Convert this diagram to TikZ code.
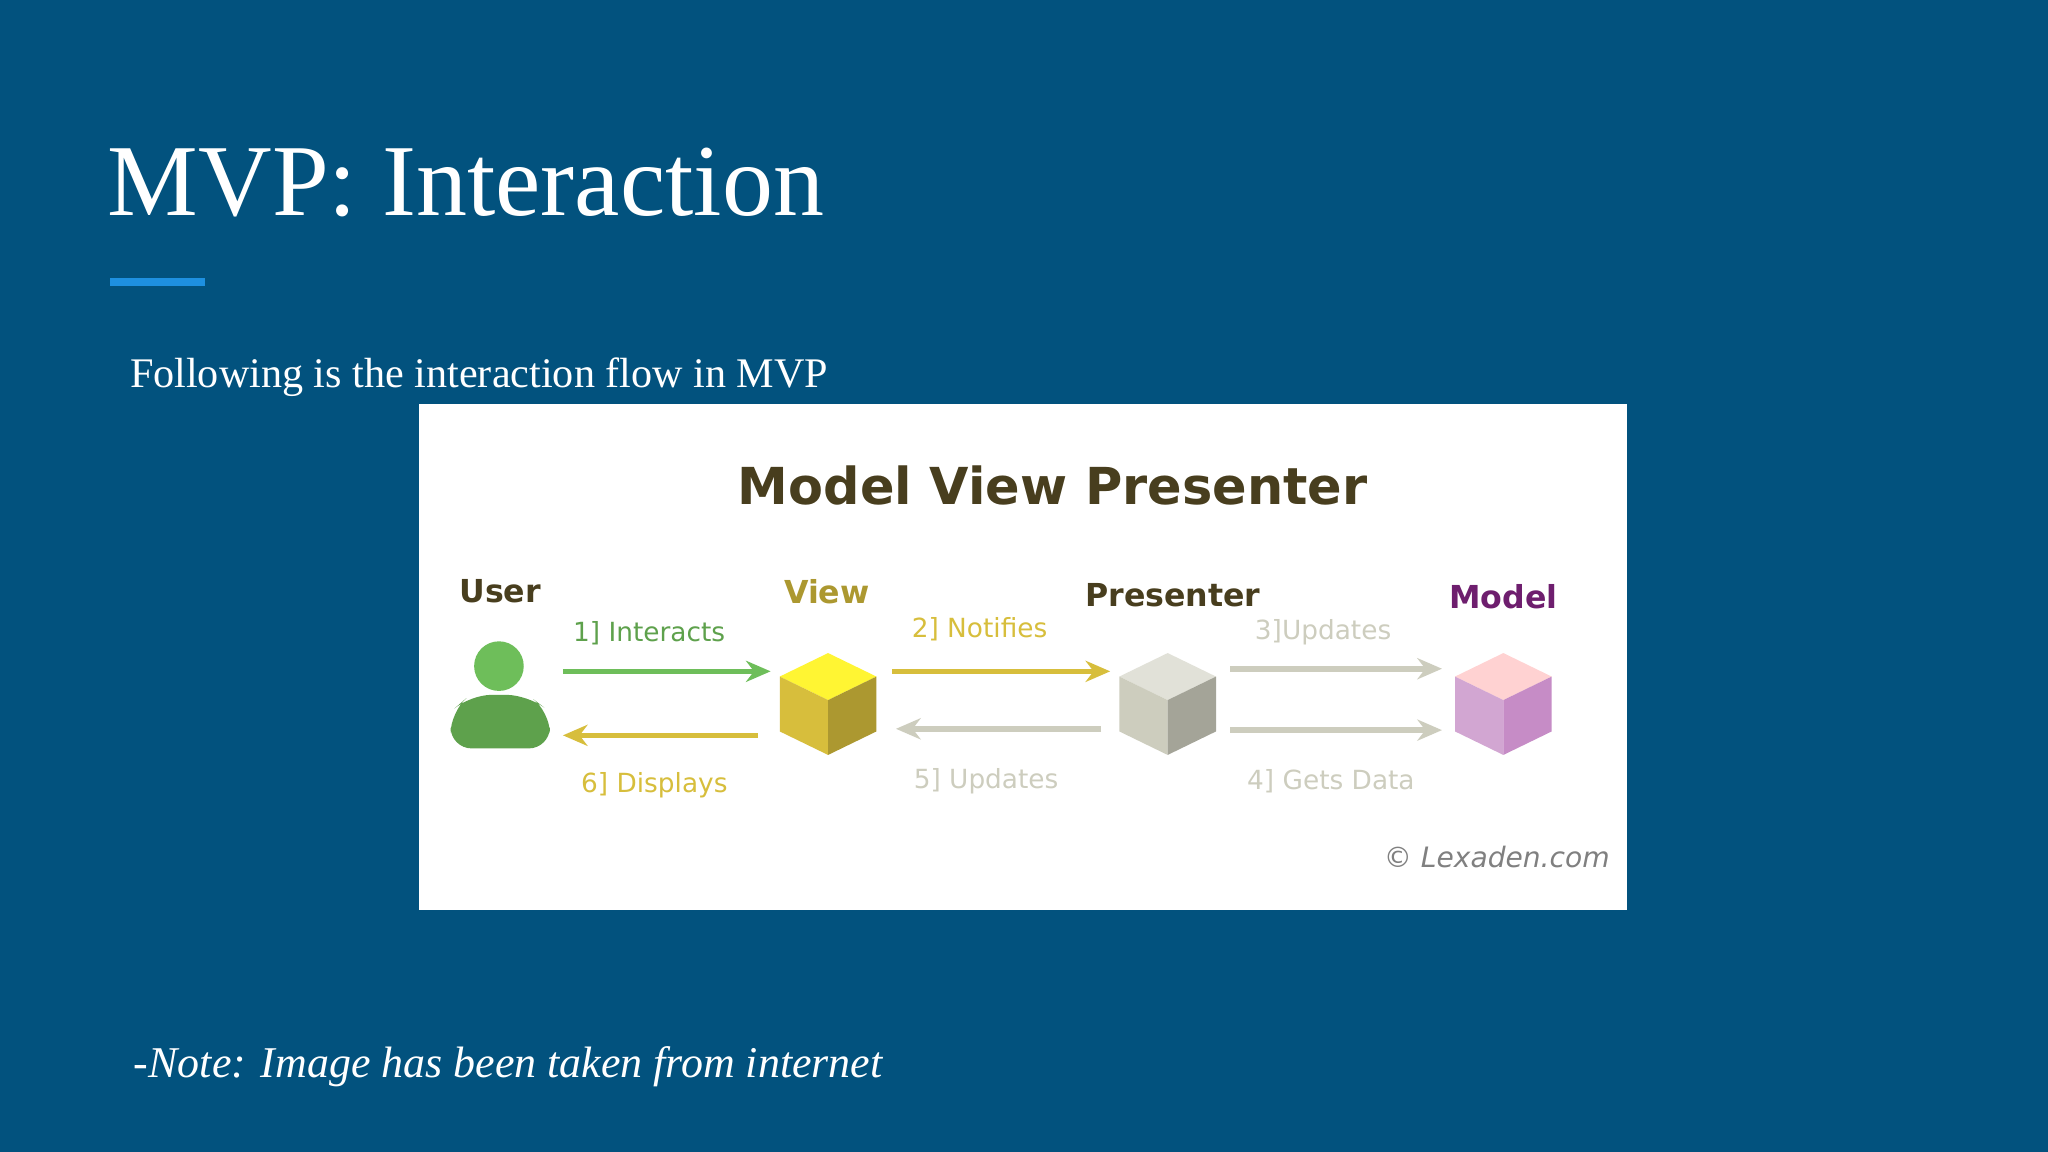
\documentclass[tikz,border=0pt]{standalone}
\usepackage{fontspec}
\setmainfont{Liberation Serif}
\newfontfamily\sans{DejaVu Sans}
\usetikzlibrary{arrows.meta}
\definecolor{bg}{RGB}{2,82,126}
\definecolor{accent}{RGB}{30,144,224}
\definecolor{olive}{RGB}{72,62,30}
\definecolor{grn}{RGB}{110,190,90}
\definecolor{yel}{RGB}{215,190,60}
\definecolor{lgray}{RGB}{205,205,190}
\definecolor{purp}{RGB}{110,30,110}
\tikzset{
  lbl/.style={font=\sans\fontsize{9}{10}\selectfont\bfseries, text=olive},
  albl/.style={font=\sans\fontsize{7.5}{9}\selectfont},
  arr/.style={line width=1.6pt, -{Stealth[length=7pt,width=6pt]}},
  pics/cube/.style n args={3}{code={
    \fill[#1] (0,-40)--(37,-22)--(0,-4)--(-37,-22)--cycle;
    \fill[#2] (-37,-22)--(0,-4)--(0,38)--(-37,20)--cycle;
    \fill[#3] (37,-22)--(0,-4)--(0,38)--(37,20)--cycle;
  }}
}
\begin{document}
\begin{tikzpicture}[x=0.013061cm,y=-0.013061cm]
\fill[bg] (0,0) rectangle (1568,882);
\useasboundingbox (0,0) rectangle (1568,882);
\node[anchor=base west, text=white, font=\fontsize{29}{34}\selectfont, inner sep=0] (title) at (82,165) {MVP: Interaction};
\fill[accent] (84,213) rectangle (157,219);
\node[anchor=west, text=white, font=\fontsize{12}{14}\selectfont, inner sep=0] (intro) at (99,289) {Following is the interaction flow in MVP};
\fill[white] (321,309) rectangle (1246,697);
\node[font=\sans\fontsize{14.5}{17}\selectfont\bfseries, text=olive] (head) at (806,372) {Model View Presenter};
\node[lbl] (user) at (383,453) {User};
\node[lbl, text=yel!80!black] (view) at (633,453) {View};
\node[lbl] (pres) at (898,456) {Presenter};
\node[lbl, text=purp] (model) at (1151,457) {Model};
% person
\fill[grn] (382,510) circle (19);
\fill[grn!85!black, rounded corners=6pt] (345,573) -- (345,545) -- (360,532) -- (404,532) -- (421,545) -- (421,573) -- cycle;
\coordinate (userR) at (431,514);
\coordinate (userR2) at (431,563);
\pic at (634,540) {cube={yellow!80!white}{yel}{yel!80!black}};
\pic at (894,540) {cube={lgray!60!white}{lgray}{lgray!80!black}};
\pic at (1151,540) {cube={pink!70!white}{violet!35!white}{violet!45!white}};
\coordinate (vL1) at (590,514); \coordinate (vL2) at (580,563);
\coordinate (vR1) at (683,514); \coordinate (vR2) at (686,558);
\coordinate (pL1) at (850,514); \coordinate (pL2) at (843,558);
\coordinate (pR1) at (942,512); \coordinate (pR2) at (942,559);
\coordinate (mL1) at (1104,512); \coordinate (mL2) at (1104,559);
\draw[arr, grn] (userR) -- (vL1);
\draw[arr, yel] (vL2) -- (userR2);
\draw[arr, yel] (vR1) -- (pL1);
\draw[arr, lgray] (pL2) -- (vR2);
\draw[arr, lgray] (pR1) -- (mL1);
\draw[arr, lgray] (pR2) -- (mL2);
\node[albl, text=grn!85!black] (l1) at (497,485) {1] Interacts};
\node[albl, text=yel] (l6) at (501,601) {6] Displays};
\node[albl, text=yel] (l2) at (750,482) {2] Notifies};
\node[albl, text=lgray] (l5) at (755,598) {5] Updates};
\node[albl, text=lgray] (l3) at (1013,484) {3]Updates};
\node[albl, text=lgray] (l4) at (1019,598) {4] Gets Data};
\node[font=\sans\fontsize{8}{10}\selectfont\itshape, text=gray] (copy) at (1146,656) {© Lexaden.com};
\node[anchor=west, text=white, font=\fontsize{12.5}{15}\selectfont\itshape, inner sep=0] (note) at (102,817) {-Note: Image has been taken from internet};
\end{tikzpicture}
\end{document}
